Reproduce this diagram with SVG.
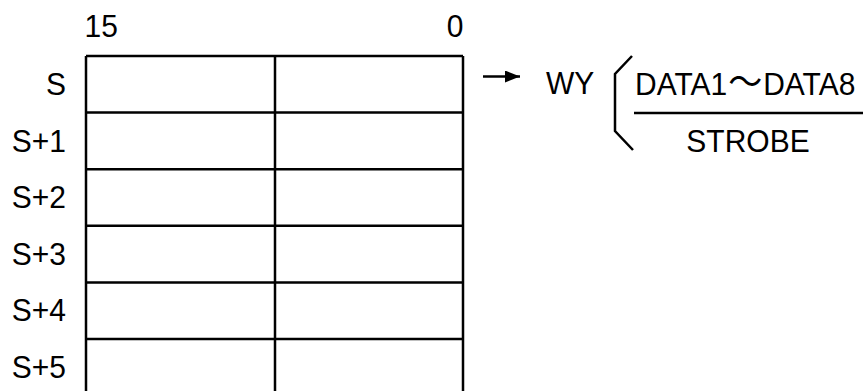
<svg xmlns="http://www.w3.org/2000/svg" width="863" height="391" viewBox="0 0 863 391">
<style>
.t{font-family:"Liberation Sans","Noto Sans CJK JP",Arial,sans-serif;font-size:30px;fill:#000}
.ln{stroke:#000;stroke-width:2.5;fill:none}
</style>
<defs>
<marker id="ah" markerWidth="16" markerHeight="13" refX="15" refY="6" orient="auto" markerUnits="userSpaceOnUse">
<path d="M0,0 L15,6 L0,12 Z" fill="#000"/>
</marker>
</defs>
<rect width="863" height="391" fill="#fff"/>
<g id="bits">
<text class="t" transform="matrix(1,0,0,1.07,84.5,36.7)">15</text>
<text class="t" transform="matrix(1,0,0,1.07,463.5,36.7)" text-anchor="end">0</text>
</g>
<g id="table">
<path class="ln" d="M86,56 H463 M86,112.6 H463 M86,169.2 H463 M86,225.8 H463 M86,282.4 H463 M86,339 H463 M86,56 V396 M275,56 V396 M463,56 V396"/>
</g>
<g id="labels">
<text class="t" transform="matrix(1,0,0,1.07,66,95)" text-anchor="end">S</text>
<text class="t" transform="matrix(1,0,0,1.07,66,151.6)" text-anchor="end">S+1</text>
<text class="t" transform="matrix(1,0,0,1.07,66,208.2)" text-anchor="end">S+2</text>
<text class="t" transform="matrix(1,0,0,1.07,66,264.8)" text-anchor="end">S+3</text>
<text class="t" transform="matrix(1,0,0,1.07,66,321.4)" text-anchor="end">S+4</text>
<text class="t" transform="matrix(1,0,0,1.07,66,378)" text-anchor="end">S+5</text>
</g>
<g id="connectors">
<line class="ln" x1="483" y1="76.5" x2="520" y2="76.5" marker-end="url(#ah)"/>
</g>
<g id="wy">
<text class="t" transform="matrix(1,0,0,1.07,546,93.5)">WY</text>
<path class="ln" d="M632,56 L615,74 V131 L633,150"/>
<text class="t" transform="matrix(1,0,0,1.07,635,95)">DATA1<tspan dx="1" style="font-size:34px">～</tspan><tspan dx="1">DATA8</tspan></text>
<line class="ln" x1="634" y1="113" x2="863" y2="113"/>
<text class="t" transform="matrix(1,0,0,1.07,748,151.5)" text-anchor="middle">STROBE</text>
</g>
</svg>
